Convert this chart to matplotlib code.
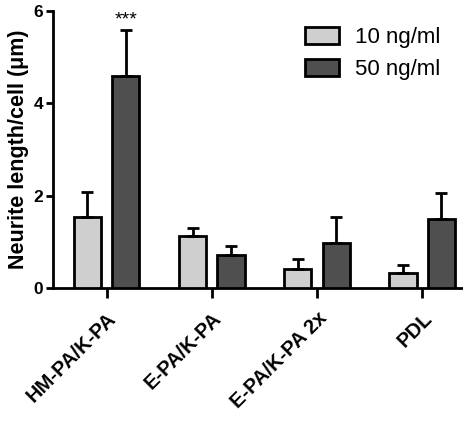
import matplotlib
matplotlib.use("Agg")
import matplotlib.pyplot as plt
from matplotlib.transforms import ScaledTranslation
import numpy as np

categories = ["HM-PA/K-PA", "E-PA/K-PA", "E-PA/K-PA 2x", "PDL"]
series_names = ["10 ng/ml", "50 ng/ml"]
means_10 = [1.54, 1.13, 0.40, 0.33]
err_10 = [0.54, 0.16, 0.23, 0.16]
means_50 = [4.60, 0.71, 0.98, 1.49]
err_50 = [0.98, 0.20, 0.55, 0.56]
yticks = [0, 2, 4, 6]

plt.rcParams['font.family'] = ['Liberation Sans', 'DejaVu Sans']

fig = plt.figure(figsize=(4.64, 4.21), dpi=100)
ax = fig.add_axes([0.114, 0.316, 0.95, 0.658])

x = np.arange(len(categories))
w = 0.26
off = 0.183
c10 = "#cfcfcf"
c50 = "#4f4f4f"
ek = dict(ecolor="black", elinewidth=2, capsize=4.5, capthick=2)
ax.bar(x - off, means_10, w, color=c10, edgecolor="black", linewidth=2,
       yerr=[np.zeros(4), err_10], error_kw=ek, label=series_names[0], zorder=3)
ax.bar(x + off, means_50, w, color=c50, edgecolor="black", linewidth=2,
       yerr=[np.zeros(4), err_50], error_kw=ek, label=series_names[1], zorder=3)

ax.text(x[0] + off, 5.62, "***", ha="center", va="bottom", fontsize=14)

ax.set_xlim(-0.51, 3.68)
ax.set_ylim(0, 6)
ax.set_yticks(yticks)
ax.set_yticklabels([str(t) for t in yticks], fontsize=12.5, fontweight="bold")
ax.set_xticks(x)
ax.set_xticklabels(categories, rotation=45, ha="right", rotation_mode="anchor",
                   fontsize=14.5, fontweight="bold")
shift = ScaledTranslation(-0.05, 0.03, fig.dpi_scale_trans)
for lbl in ax.get_xticklabels():
    lbl.set_transform(lbl.get_transform() + shift)
ax.tick_params(axis="x", length=7, width=2, direction="out", pad=8)
ax.tick_params(axis="y", length=5, width=2, direction="out", pad=2)
for s in ["top", "right"]:
    ax.spines[s].set_visible(False)
for s in ["left", "bottom"]:
    ax.spines[s].set_linewidth(2)
ax.set_ylabel("Neurite length/cell (\u03bcm)", fontsize=15.5, fontweight="bold", labelpad=3)

leg = ax.legend(loc="upper left", bbox_to_anchor=(0.657, 0.937),
                bbox_transform=fig.transFigure, frameon=False, borderpad=0,
                borderaxespad=0, fontsize=16, handlelength=1.55, handleheight=0.8,
                handletextpad=0.7, labelspacing=0.5)

fig.savefig("out.png", dpi=100)
